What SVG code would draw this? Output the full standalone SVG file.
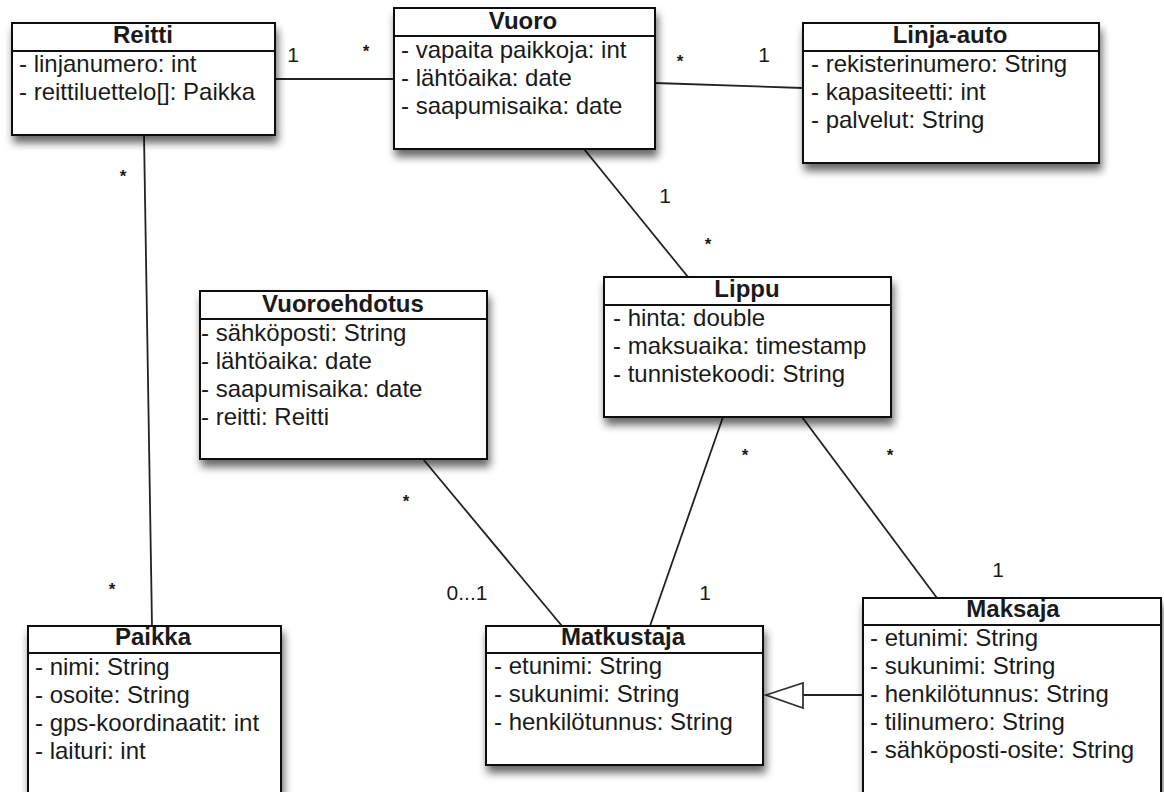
<svg xmlns="http://www.w3.org/2000/svg" width="1164" height="792" viewBox="0 0 1164 792">
<style>
.box{fill:#fff;stroke:#111;stroke-width:2}
.div{stroke:#111;stroke-width:2}
.title{font-family:"Liberation Sans",Arial,sans-serif;font-weight:bold;font-size:24px;fill:#1a1a1a;text-anchor:middle}
.attr{font-family:"Liberation Sans",Arial,sans-serif;font-size:24px;fill:#1a1a1a}
.lbl{font-family:"Liberation Sans",Arial,sans-serif;font-size:21px;fill:#1a1a1a;text-anchor:middle}
.star{font-family:"Liberation Sans",Arial,sans-serif;font-size:17px;font-weight:bold;fill:#1a1a1a;text-anchor:middle}
.conn{stroke:#222;stroke-width:1.8;fill:none}
</style>
<defs>
<filter id="sh" x="-20%" y="-20%" width="140%" height="160%">
<feGaussianBlur in="SourceAlpha" stdDeviation="4"/>
<feOffset dx="2" dy="7" result="b"/>
<feComponentTransfer><feFuncA type="linear" slope="0.6"/></feComponentTransfer>
<feMerge><feMergeNode/><feMergeNode in="SourceGraphic"/></feMerge>
</filter>
</defs>
<rect width="1164" height="792" fill="#fff"/>
<g id="connectors">
<line class="conn" x1="275" y1="79" x2="394" y2="79"/>
<line class="conn" x1="655" y1="83" x2="803" y2="88"/>
<line class="conn" x1="144" y1="135" x2="152" y2="626"/>
<line class="conn" x1="584" y1="149" x2="688" y2="277"/>
<line class="conn" x1="423" y1="459" x2="562" y2="626"/>
<line class="conn" x1="723" y1="417" x2="650" y2="626"/>
<line class="conn" x1="802" y1="417" x2="937" y2="598"/>
<line class="conn" x1="863" y1="695" x2="803" y2="695"/>
<polygon points="766,695 803,683 803,708" fill="#fff" stroke="#333" stroke-width="1.8"/>
<text class="lbl" x="293" y="62">1</text>
<text class="star" x="366" y="57">*</text>
<text class="star" x="680" y="67">*</text>
<text class="lbl" x="764" y="62">1</text>
<text class="star" x="123" y="182">*</text>
<text class="lbl" x="665" y="203">1</text>
<text class="star" x="708" y="250">*</text>
<text class="star" x="406" y="507">*</text>
<text class="lbl" x="467" y="600">0...1</text>
<text class="lbl" x="705" y="600">1</text>
<text class="star" x="745" y="461">*</text>
<text class="star" x="890" y="461">*</text>
<text class="lbl" x="998" y="577">1</text>
<text class="star" x="112" y="595">*</text>
</g>
<g id="reitti">
<rect class="box" x="12" y="23" width="263" height="112" filter="url(#sh)"/>
<line class="div" x1="12" y1="51" x2="275" y2="51"/>
<text class="title" x="143" y="43">Reitti</text>
<text class="attr" x="19" y="72">- linjanumero: int</text>
<text class="attr" x="19" y="100">- reittiluettelo[]: Paikka</text>
</g>
<g id="vuoro">
<rect class="box" x="394" y="8" width="261" height="141" filter="url(#sh)"/>
<line class="div" x1="394" y1="36" x2="655" y2="36"/>
<text class="title" x="523" y="29">Vuoro</text>
<text class="attr" x="401" y="58">- vapaita paikkoja: int</text>
<text class="attr" x="401" y="86">- lähtöaika: date</text>
<text class="attr" x="401" y="114">- saapumisaika: date</text>
</g>
<g id="linja-auto">
<rect class="box" x="803" y="23" width="296" height="140" filter="url(#sh)"/>
<line class="div" x1="803" y1="51" x2="1099" y2="51"/>
<text class="title" x="950" y="43">Linja-auto</text>
<text class="attr" x="811" y="72">- rekisterinumero: String</text>
<text class="attr" x="811" y="100">- kapasiteetti: int</text>
<text class="attr" x="811" y="128">- palvelut: String</text>
</g>
<g id="vuoroehdotus">
<rect class="box" x="200" y="291" width="287" height="168" filter="url(#sh)"/>
<line class="div" x1="200" y1="319" x2="487" y2="319"/>
<text class="title" x="343" y="312">Vuoroehdotus</text>
<text class="attr" x="201" y="341">- sähköposti: String</text>
<text class="attr" x="201" y="369">- lähtöaika: date</text>
<text class="attr" x="201" y="397">- saapumisaika: date</text>
<text class="attr" x="201" y="425">- reitti: Reitti</text>
</g>
<g id="lippu">
<rect class="box" x="604" y="277" width="287" height="140" filter="url(#sh)"/>
<line class="div" x1="604" y1="305" x2="891" y2="305"/>
<text class="title" x="747" y="297">Lippu</text>
<text class="attr" x="613" y="326">- hinta: double</text>
<text class="attr" x="613" y="354">- maksuaika: timestamp</text>
<text class="attr" x="613" y="382">- tunnistekoodi: String</text>
</g>
<g id="paikka">
<rect class="box" x="28" y="626" width="253" height="200" filter="url(#sh)"/>
<line class="div" x1="28" y1="653" x2="281" y2="653"/>
<text class="title" x="153" y="645">Paikka</text>
<text class="attr" x="35" y="675">- nimi: String</text>
<text class="attr" x="35" y="703">- osoite: String</text>
<text class="attr" x="35" y="731">- gps-koordinaatit: int</text>
<text class="attr" x="35" y="759">- laituri: int</text>
</g>
<g id="matkustaja">
<rect class="box" x="486" y="626" width="277" height="139" filter="url(#sh)"/>
<line class="div" x1="486" y1="653" x2="763" y2="653"/>
<text class="title" x="623" y="645">Matkustaja</text>
<text class="attr" x="494" y="674">- etunimi: String</text>
<text class="attr" x="494" y="702">- sukunimi: String</text>
<text class="attr" x="494" y="730">- henkilötunnus: String</text>
</g>
<g id="maksaja">
<rect class="box" x="863" y="598" width="298" height="250" filter="url(#sh)"/>
<line class="div" x1="863" y1="625" x2="1161" y2="625"/>
<text class="title" x="1013" y="617">Maksaja</text>
<text class="attr" x="870" y="646">- etunimi: String</text>
<text class="attr" x="870" y="674">- sukunimi: String</text>
<text class="attr" x="870" y="702">- henkilötunnus: String</text>
<text class="attr" x="870" y="730">- tilinumero: String</text>
<text class="attr" x="870" y="758">- sähköposti-osite: String</text>
</g>
</svg>
